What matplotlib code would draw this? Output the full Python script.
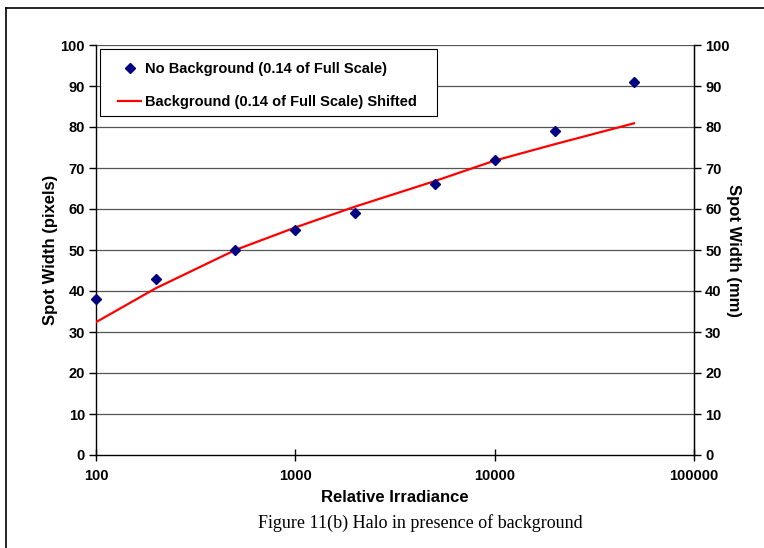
import matplotlib
matplotlib.use("Agg")
import matplotlib.pyplot as plt
from matplotlib.lines import Line2D
from matplotlib.patches import Rectangle
from matplotlib.ticker import FixedLocator, NullLocator, FixedFormatter

irradiance = [100, 200, 500, 1000, 2000, 5000, 10000, 20000, 50000]
no_background = [38, 43, 50, 55, 59, 66, 72, 79, 91]
background_shifted = [32.4, 40.7, 50.0, 55.5, 60.6, 66.8, 71.8, 75.8, 80.9]
x_ticks = [100, 1000, 10000, 100000]
x_tick_labels = ["100", "1000", "10000", "100000"]
y_ticks = list(range(0, 101, 10))

plt.rcParams['font.family'] = ['Liberation Sans', 'DejaVu Sans']

fig = plt.figure(figsize=(7.64, 5.48), dpi=100)
ax = fig.add_axes([96/764, 1-455/548, (694-96)/764, (455-45)/548])

ax.plot(irradiance, no_background, linestyle='none', marker='D', color='#000080',
        markersize=5.5, label='No Background (0.14 of Full Scale)', zorder=4, clip_on=False)
ax.plot(irradiance, background_shifted, color='#ff0000', linewidth=1.6,
        label='Background (0.14 of Full Scale) Shifted', zorder=3)

ax.set_xscale('log')
ax.set_xlim(100, 100000)
ax.set_ylim(0, 100)
ax.xaxis.set_major_locator(FixedLocator(x_ticks))
ax.xaxis.set_major_formatter(FixedFormatter(x_tick_labels))
ax.xaxis.set_minor_locator(NullLocator())
ax.set_yticks(y_ticks)
for y in y_ticks[1:]:
    ax.axhline(y, color='#555555', linewidth=0.9, zorder=1)

ax.spines['top'].set_visible(False)
for s in ['left', 'bottom', 'right']:
    ax.spines[s].set_linewidth(1.0)

ax.tick_params(axis='y', direction='out', length=5, width=1, labelsize=10.5, pad=3)
ax.tick_params(axis='x', direction='inout', length=8, width=1, labelsize=10.5, pad=6)
for lab in ax.get_xticklabels() + ax.get_yticklabels():
    lab.set_fontweight('bold')

ax.set_xlabel('Relative Irradiance', fontsize=12, fontweight='bold', labelpad=5)
ax.set_ylabel('Spot Width (pixels)', fontsize=12, fontweight='bold', labelpad=2)

ax2 = ax.twinx()
ax2.set_ylim(0, 100)
ax2.set_yticks(y_ticks)
ax2.tick_params(axis='y', direction='out', length=5, width=1, labelsize=10.5, pad=3)
for lab in ax2.get_yticklabels():
    lab.set_fontweight('bold')
for s in ['top', 'left', 'bottom']:
    ax2.spines[s].set_visible(False)
ax2.set_ylabel('Spot Width (mm)', fontsize=12, fontweight='bold', rotation=270, labelpad=8)

# legend frame drawn separately, legend entries placed inside it
ax.add_patch(Rectangle((4/598, (455-116)/410), (437-100)/598, (116-49)/410,
                       transform=ax.transAxes, facecolor='white', edgecolor='black',
                       linewidth=0.8, zorder=5, clip_on=False))
leg = ax.legend(loc='upper left', bbox_to_anchor=((118-96)/598, (455-62)/410), frameon=False,
                prop={'weight': 'bold', 'size': 10.5}, borderpad=0,
                labelspacing=1.3, handlelength=1.6, handletextpad=0.25, borderaxespad=0)
leg.set_zorder(6)

fig.lines.append(Line2D([6/764, 1.0], [1-8/548, 1-8/548], transform=fig.transFigure,
                        color='black', linewidth=1.2))
fig.lines.append(Line2D([6/764, 6/764], [0.0, 1-8/548], transform=fig.transFigure,
                        color='black', linewidth=1.2))

fig.text(420/764, 1-523/548, 'Figure 11(b) Halo in presence of background',
         ha='center', va='center', fontsize=13, family=['Liberation Serif', 'DejaVu Serif'])

fig.savefig('out.png', dpi=100)
